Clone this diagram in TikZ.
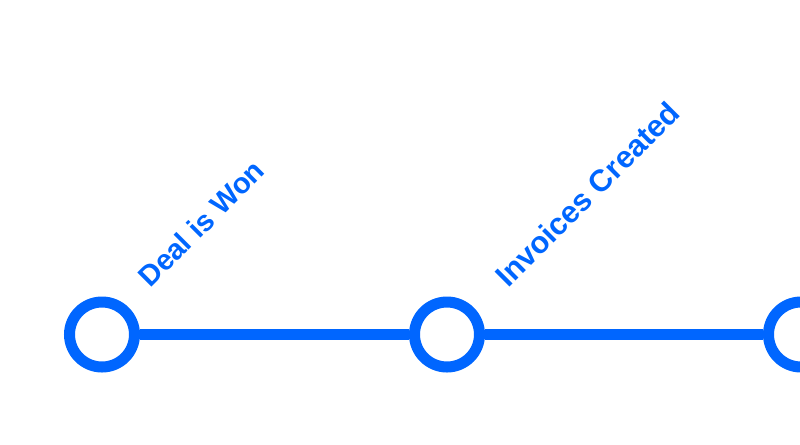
\documentclass[tikz,border=0pt]{standalone}
\usepackage{fontspec}
\setmainfont{Liberation Sans}
\definecolor{tlblue}{HTML}{0066FF}
\begin{document}
\begin{tikzpicture}[x=0.75pt,y=-0.75pt,
  milestone/.style={circle,draw=tlblue,line width=8.25pt,minimum size=48.75pt,inner sep=0pt,fill=white},
  link/.style={draw=tlblue,line width=8.25pt},
  tag/.style={anchor=base west,rotate=45,text=tlblue,inner sep=0pt}]
\useasboundingbox (0,0) rectangle (800,444);
\clip (0,0) rectangle (800,444);
\node[milestone] (m1) at (102,334.5) {};
\node[milestone] (m2) at (447,334.5) {};
\node[milestone] (m3) at (801,334.5) {};
\draw[link] (m1) -- (m2);
\draw[link] (m2) -- (m3);
\node[tag,font=\bfseries\fontsize{21.8pt}{24pt}\selectfont] (t1) at (150,289) {Deal is Won};
\node[tag,font=\bfseries\fontsize{23pt}{26pt}\selectfont] (t2) at (508,289) {Invoices Created};
\end{tikzpicture}
\end{document}
